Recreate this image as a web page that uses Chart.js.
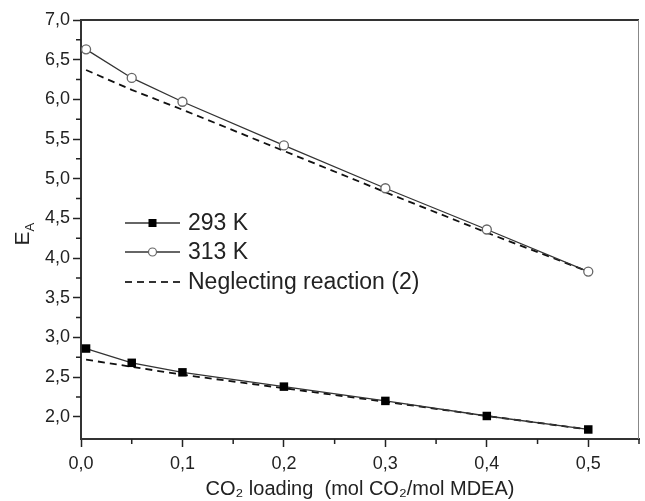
<!DOCTYPE html>
<html>
<head>
<meta charset="utf-8">
<script src="https://cdn.jsdelivr.net/npm/chart.js@4"></script>
<style>
  html, body { margin: 0; padding: 0; background: #fff; }
  canvas { display: block; }
</style>
</head>
<body>
<canvas id="myChart" width="645" height="501"></canvas>
<script>
// CO2 loading (mol CO2 / mol MDEA)
const loading = [0.005, 0.05, 0.1, 0.2, 0.3, 0.4, 0.5];

// enhancement factor E_A
const ea293 = [2.86, 2.68, 2.56, 2.38, 2.20, 2.01, 1.84];
const ea313 = [6.63, 6.27, 5.97, 5.42, 4.88, 4.36, 3.83];
const neglect293 = [2.72, 2.63, 2.53, 2.36, 2.19, 2.01, 1.84];
const neglect313 = [6.37, 6.12, 5.87, 5.35, 4.83, 4.32, 3.83];

const xTicks = [0, 0.1, 0.2, 0.3, 0.4, 0.5];
const xMinor = [0.05, 0.15, 0.25, 0.35, 0.45, 0.55];
const yTicks = [2.0, 2.5, 3.0, 3.5, 4.0, 4.5, 5.0, 5.5, 6.0, 6.5, 7.0];
const yMinor = [2.25, 2.75, 3.25, 3.75, 4.25, 4.75, 5.25, 5.75, 6.25, 6.75];

const legendLabels = ['293 K', '313 K', 'Neglecting reaction (2)'];

const fontFam = "'Liberation Sans', Arial, sans-serif";
const ink = '#222';

function toPoints(xs, ys) {
    return xs.map((x, i) => ({ x: x, y: ys[i] }));
}

function comma(v) {
    return v.toFixed(1).replace('.', ',');
}

const extras = {
    id: 'extras',
    afterDraw(chart) {
        const ctx = chart.ctx;
        const { left, right, top, bottom } = chart.chartArea;
        const xs = chart.scales.x;
        const ys = chart.scales.y;

        ctx.save();
        // top + right frame
        ctx.strokeStyle = '#333';
        ctx.lineWidth = 2;
        ctx.beginPath();
        ctx.moveTo(left - 1, top);
        ctx.lineTo(right, top);
        ctx.stroke();
        ctx.strokeStyle = '#888';
        ctx.lineWidth = 1;
        ctx.beginPath();
        ctx.moveTo(right - 0.5, top);
        ctx.lineTo(right - 0.5, bottom);
        ctx.stroke();

        // minor ticks
        ctx.strokeStyle = ink;
        ctx.lineWidth = 1.5;
        ctx.beginPath();
        xMinor.forEach((v) => {
            const px = xs.getPixelForValue(v);
            ctx.moveTo(px, bottom);
            ctx.lineTo(px, bottom + 5);
        });
        yMinor.forEach((v) => {
            const py = ys.getPixelForValue(v);
            ctx.moveTo(left, py);
            ctx.lineTo(left - 5, py);
        });
        ctx.stroke();

        // y title E_A
        ctx.save();
        ctx.translate(23, (top + bottom) / 2 + 4);
        ctx.rotate(-Math.PI / 2);
        ctx.fillStyle = ink;
        ctx.textBaseline = 'middle';
        ctx.font = '21px ' + fontFam;
        ctx.textAlign = 'right';
        ctx.fillText('E', 2, 0);
        ctx.font = '13px ' + fontFam;
        ctx.textAlign = 'left';
        ctx.fillText('A', 2, 7);
        ctx.restore();

        // legend
        const lx0 = 125, lx1 = 180, tx = 188;
        const rows = [223, 252, 282];
        ctx.font = '23px ' + fontFam;
        ctx.textBaseline = 'middle';
        ctx.textAlign = 'left';
        rows.forEach((ry, i) => {
            ctx.strokeStyle = '#333';
            ctx.lineWidth = i === 2 ? 1.8 : 1.3;
            ctx.setLineDash(i === 2 ? [7, 5] : []);
            ctx.beginPath();
            ctx.moveTo(lx0, ry);
            ctx.lineTo(lx1, ry);
            ctx.stroke();
            ctx.setLineDash([]);
            const mx = (lx0 + lx1) / 2;
            if (i === 0) {
                ctx.fillStyle = '#000';
                ctx.fillRect(mx - 4, ry - 4, 8, 8);
            } else if (i === 1) {
                ctx.fillStyle = '#fff';
                ctx.strokeStyle = '#666';
                ctx.lineWidth = 1.2;
                ctx.beginPath();
                ctx.arc(mx, ry, 4, 0, Math.PI * 2);
                ctx.fill();
                ctx.stroke();
            }
            ctx.fillStyle = ink;
            ctx.fillText(legendLabels[i], tx, ry + 1);
        });
        ctx.restore();
    }
};

const datasets = [
    {
        label: legendLabels[2] + ' 313',
        data: toPoints(loading, neglect313),
        borderColor: '#111',
        borderWidth: 1.8,
        borderDash: [7, 5],
        pointRadius: 0,
        order: 3
    },
    {
        label: legendLabels[2] + ' 293',
        data: toPoints(loading, neglect293),
        borderColor: '#111',
        borderWidth: 1.8,
        borderDash: [7, 5],
        pointRadius: 0,
        order: 3
    },
    {
        label: legendLabels[1],
        data: toPoints(loading, ea313),
        borderColor: '#333',
        borderWidth: 1.3,
        pointStyle: 'circle',
        pointRadius: 4.5,
        pointBackgroundColor: '#fff',
        pointBorderColor: '#666',
        pointBorderWidth: 1.3,
        order: 1
    },
    {
        label: legendLabels[0],
        data: toPoints(loading, ea293),
        borderColor: '#333',
        borderWidth: 1.3,
        pointStyle: 'rect',
        pointRadius: 6,
        pointBackgroundColor: '#000',
        pointBorderColor: '#000',
        pointBorderWidth: 0,
        order: 1
    }
];

new Chart(document.getElementById('myChart'), {
    type: 'line',
    data: { datasets },
    options: {
        responsive: false,
        animation: false,
        devicePixelRatio: 1,
        layout: { padding: { top: 20, right: 1, left: 0, bottom: 0 } },
        plugins: {
            legend: { display: false },
            tooltip: { enabled: false }
        },
        elements: { line: { tension: 0 } },
        scales: {
            x: {
                type: 'linear',
                min: 0,
                max: 0.55,
                afterBuildTicks: (scale) => { scale.ticks = xTicks.map((v) => ({ value: v })); },
                afterFit: (scale) => {
                    scale.height = 62;
                    scale.paddingLeft = 0;
                    scale.paddingRight = 0;
                },
                ticks: {
                    callback: (v) => comma(v),
                    color: ink,
                    font: { family: fontFam, size: 18 },
                    padding: 6,
                    maxRotation: 0
                },
                grid: {
                    drawOnChartArea: false,
                    drawTicks: true,
                    tickLength: 8,
                    tickColor: ink,
                    tickWidth: 1.5
                },
                border: { display: true, color: '#333', width: 2 },
                title: {
                    display: true,
                    text: 'CO\u2082 loading  (mol CO\u2082/mol MDEA)',
                    color: ink,
                    font: { family: fontFam, size: 20 },
                    padding: { top: 0, bottom: 0 }
                }
            },
            y: {
                type: 'linear',
                min: 1.72,
                max: 7.0,
                afterBuildTicks: (scale) => { scale.ticks = yTicks.map((v) => ({ value: v })); },
                afterFit: (scale) => {
                    scale.width = 81;
                    scale.paddingTop = 0;
                    scale.paddingBottom = 0;
                },
                ticks: {
                    callback: (v) => comma(v),
                    color: ink,
                    font: { family: fontFam, size: 18 },
                    padding: 3
                },
                grid: {
                    drawOnChartArea: false,
                    drawTicks: true,
                    tickLength: 8,
                    tickColor: ink,
                    tickWidth: 1.5
                },
                border: { display: true, color: '#333', width: 2 }
            }
        }
    },
    plugins: [extras]
});
</script>
</body>
</html>
